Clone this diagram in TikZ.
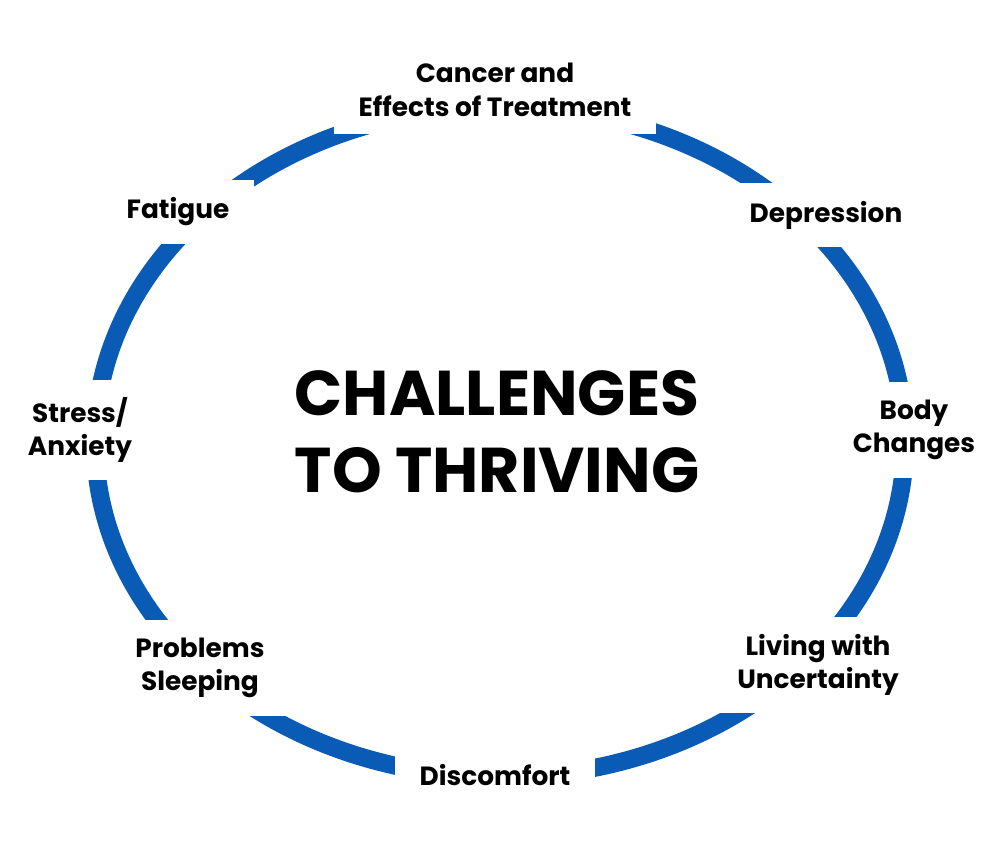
\documentclass[tikz,border=0pt]{standalone}
\usepackage{fontspec}
\setmainfont{Poppins}
\definecolor{ringblue}{HTML}{0A5BB5}
\begin{document}
\begin{tikzpicture}[
    x=0.02cm, y=-0.02cm,
    label/.style={fill=white, align=center, font=\fontsize{15}{19}\selectfont\bfseries, inner xsep=14pt, inner ysep=10pt},
    ring/.style={draw=ringblue, line width=0.36cm}
]
\useasboundingbox (0,0) rectangle (1000,843);

% Anneau
\draw[ring] (500,442) ellipse [x radius=405, y radius=335];

% Etiquettes
\node[label] (cancer) at (495,90) {Cancer and\\Effects of Treatment};
\node[label] (depression) at (826,215) {Depression};
\node[label] (body) at (914,430) {Body\\Changes};
\node[label] (living) at (818,665) {Living with\\Uncertainty};
\node[label] (discomfort) at (495,775) {Discomfort};
\node[label] (sleeping) at (200,668) {Problems\\Sleeping};
\node[label] (stress) at (80,430) {Stress/\\Anxiety};
\node[label] (fatigue) at (178,212) {Fatigue};

% Centre
\node[align=center, font=\fontsize{36}{44}\selectfont\bfseries] (title) at (497,432) {CHALLENGES\\TO THRIVING};
\end{tikzpicture}
\end{document}
